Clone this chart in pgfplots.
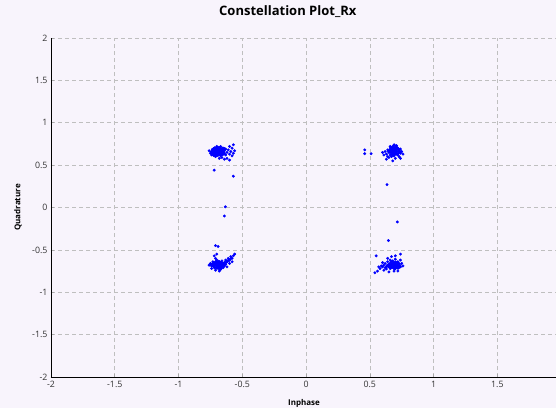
\documentclass[border=0pt]{standalone}
\usepackage{pgfplots}
\pgfplotsset{compat=1.18}
\usepackage{fontspec}
\setmainfont{Open Sans}
\definecolor{bgl}{RGB}{248,244,252}
\definecolor{ptblue}{RGB}{0,0,255}
\begin{document}
\begin{tikzpicture}
\path[use as bounding box, fill=bgl] (-51pt,-31pt) rectangle (505pt,377pt);
\begin{axis}[
  scale only axis, width=505pt, height=339pt,
  xmin=-2, xmax=1.96, ymin=-2, ymax=2,
  axis x line*=bottom, axis y line*=left,
  axis line style={black, line width=0.9pt, -},
  xtick={-2,-1.5,-1,-0.5,0,0.5,1,1.5},
  ytick={-2,-1.5,-1,-0.5,0,0.5,1,1.5,2},
  grid=major,
  grid style={gray!50, line width=0.6pt, dash pattern=on 4pt off 3pt},
  tick align=inside, major tick length=3pt,
  tick style={gray!70, line width=0.6pt},
  /pgf/number format/assume math mode=true,
  tick label style={font=\fontsize{8.8}{10}\selectfont, text=black!80},
  xticklabel style={yshift=-1pt},
  title={Constellation Plot\_Rx},
  title style={font=\bfseries\fontsize{13}{15}\selectfont, anchor=center, at={(axis description cs:0.469,1)}, yshift=20pt},
  xlabel={Inphase},
  xlabel style={font=\bfseries\fontsize{8}{9}\selectfont, anchor=center, at={(axis description cs:0.501,0)}, yshift=-26pt},
  ylabel={Quadrature},
  ylabel style={font=\bfseries\fontsize{8}{9}\selectfont, anchor=center, at={(axis description cs:-0.0653,0.5)}},
  clip=false,
]
\addplot[only marks, mark=*, mark size=1.25pt, color=ptblue] coordinates {
(-0.74,0.66) (-0.73,0.68) (-0.72,0.64) (-0.71,0.67) (-0.70,0.69) (-0.70,0.65) (-0.69,0.62) (-0.69,0.67)
(-0.68,0.70) (-0.68,0.64) (-0.67,0.66) (-0.67,0.61) (-0.66,0.68) (-0.66,0.63) (-0.65,0.66) (-0.65,0.70)
(-0.64,0.64) (-0.64,0.67) (-0.63,0.62) (-0.63,0.69) (-0.72,0.62) (-0.73,0.65) (-0.75,0.64) (-0.74,0.62)
(-0.71,0.60) (-0.70,0.72) (-0.69,0.71) (-0.72,0.70) (-0.67,0.72) (-0.66,0.59) (-0.62,0.65) (-0.61,0.68)
(-0.60,0.63) (-0.59,0.66) (-0.58,0.61) (-0.57,0.64) (-0.58,0.70) (-0.60,0.72) (-0.57,0.74) (-0.56,0.67)
(-0.62,0.58) (-0.64,0.57) (-0.60,0.56) (-0.68,0.58) (-0.76,0.67) (-0.71,0.655) (-0.69,0.645) (-0.675,0.655)
(-0.705,0.675) (-0.685,0.685) (-0.715,0.635) (-0.655,0.645) (-0.695,0.63) (-0.725,0.665) (-0.665,0.675)
(-0.645,0.655) (-0.735,0.645) (-0.69,0.66) (-0.70,0.64) (-0.68,0.67) (-0.72,0.44) (-0.57,0.37)
(-0.735,0.685) (-0.725,0.695) (-0.715,0.705) (-0.705,0.695) (-0.695,0.705) (-0.685,0.695) (-0.675,0.705)
(-0.665,0.69) (-0.655,0.70) (-0.645,0.685) (-0.735,0.625) (-0.725,0.615) (-0.715,0.62) (-0.705,0.61)
(-0.695,0.615) (-0.685,0.62) (-0.675,0.63) (-0.665,0.64) (-0.655,0.625) (-0.645,0.63) (-0.745,0.655)
(-0.73,0.675) (-0.71,0.685) (-0.70,0.66) (-0.68,0.65) (-0.66,0.655) (-0.64,0.695) (-0.72,0.655) (-0.69,0.69) (-0.67,0.625)
(0.62,0.66) (0.63,0.63) (0.64,0.68) (0.65,0.65) (0.66,0.70) (0.66,0.62) (0.67,0.67) (0.68,0.64)
(0.68,0.71) (0.69,0.66) (0.70,0.63) (0.70,0.69) (0.71,0.66) (0.72,0.62) (0.72,0.70) (0.73,0.67)
(0.74,0.64) (0.74,0.69) (0.75,0.66) (0.71,0.73) (0.69,0.74) (0.67,0.60) (0.65,0.59) (0.70,0.58)
(0.73,0.60) (0.61,0.62) (0.60,0.65) (0.63,0.57) (0.68,0.55) (0.74,0.58) (0.76,0.63) (0.66,0.72)
(0.64,0.60) (0.69,0.61) (0.71,0.64) (0.675,0.655) (0.695,0.675) (0.685,0.645) (0.705,0.655) (0.665,0.665)
(0.715,0.685) (0.655,0.675) (0.725,0.645) (0.685,0.685) (0.695,0.635) (0.705,0.705) (0.675,0.695)
(0.665,0.685) (0.675,0.715) (0.685,0.725) (0.695,0.705) (0.705,0.725) (0.715,0.705) (0.725,0.685)
(0.665,0.645) (0.675,0.625) (0.685,0.615) (0.695,0.655) (0.705,0.635) (0.715,0.625) (0.725,0.665)
(0.735,0.655) (0.735,0.685) (0.655,0.655) (0.645,0.665) (0.70,0.675) (0.68,0.68) (0.69,0.645)
(0.46,0.68) (0.46,0.635) (0.51,0.635) (0.635,0.27)
(-0.75,-0.66) (-0.74,-0.69) (-0.73,-0.64) (-0.72,-0.67) (-0.72,-0.71) (-0.71,-0.65) (-0.70,-0.69) (-0.70,-0.62)
(-0.69,-0.67) (-0.69,-0.72) (-0.68,-0.64) (-0.68,-0.70) (-0.67,-0.66) (-0.67,-0.73) (-0.66,-0.69) (-0.66,-0.63)
(-0.65,-0.67) (-0.65,-0.71) (-0.64,-0.65) (-0.64,-0.69) (-0.63,-0.62) (-0.63,-0.67) (-0.62,-0.64) (-0.61,-0.60)
(-0.60,-0.62) (-0.59,-0.58) (-0.58,-0.60) (-0.57,-0.57) (-0.56,-0.55) (-0.60,-0.66) (-0.58,-0.64) (-0.62,-0.70)
(-0.71,-0.60) (-0.72,-0.57) (-0.70,-0.55) (-0.74,-0.72) (-0.71,-0.74) (-0.68,-0.75) (-0.76,-0.68)
(-0.71,-0.45) (-0.69,-0.46) (-0.695,-0.675) (-0.705,-0.685) (-0.685,-0.665) (-0.675,-0.685) (-0.715,-0.675)
(-0.705,-0.655) (-0.685,-0.695) (-0.725,-0.685) (-0.665,-0.675) (-0.655,-0.685) (-0.735,-0.665) (-0.645,-0.675)
(-0.69,-0.70) (-0.70,-0.675) (-0.633,0.008) (-0.64,-0.10)
(-0.725,-0.695) (-0.715,-0.705) (-0.705,-0.715) (-0.695,-0.705) (-0.685,-0.715) (-0.675,-0.705) (-0.665,-0.715)
(-0.715,-0.645) (-0.705,-0.635) (-0.695,-0.645) (-0.685,-0.635) (-0.675,-0.645) (-0.665,-0.655) (-0.655,-0.66)
(-0.735,-0.685) (-0.745,-0.675) (-0.725,-0.655) (-0.69,-0.69) (-0.68,-0.68) (-0.67,-0.69) (-0.71,-0.665)
(-0.645,-0.66) (-0.635,-0.655) (-0.625,-0.645) (-0.615,-0.63) (-0.605,-0.625) (-0.595,-0.61)
(0.62,-0.66) (0.63,-0.70) (0.64,-0.64) (0.65,-0.68) (0.66,-0.72) (0.66,-0.62) (0.67,-0.67) (0.68,-0.70)
(0.68,-0.63) (0.69,-0.66) (0.70,-0.72) (0.70,-0.61) (0.71,-0.68) (0.72,-0.64) (0.72,-0.71) (0.73,-0.67)
(0.74,-0.62) (0.74,-0.70) (0.75,-0.66) (0.67,-0.58) (0.70,-0.57) (0.74,-0.55) (0.64,-0.60) (0.60,-0.65)
(0.59,-0.69) (0.58,-0.72) (0.56,-0.75) (0.54,-0.77) (0.57,-0.70) (0.61,-0.74) (0.65,-0.76) (0.69,-0.75)
(0.72,-0.75) (0.76,-0.69) (0.55,-0.57) (0.675,-0.675) (0.685,-0.685) (0.695,-0.665) (0.665,-0.695)
(0.705,-0.675) (0.685,-0.655) (0.715,-0.695) (0.655,-0.665) (0.695,-0.695) (0.725,-0.655) (0.675,-0.705)
(0.705,-0.645) (0.716,-0.17) (0.646,-0.39)
(0.665,-0.645) (0.675,-0.635) (0.695,-0.645) (0.715,-0.655) (0.725,-0.675) (0.735,-0.685) (0.715,-0.715)
(0.705,-0.705) (0.685,-0.715) (0.665,-0.715) (0.655,-0.705) (0.645,-0.695) (0.645,-0.675) (0.635,-0.685)
(0.69,-0.68) (0.70,-0.69) (0.68,-0.665) (0.66,-0.68) (0.73,-0.70) (0.725,-0.715) (0.695,-0.725)
(0.62,-0.71) (0.60,-0.70) (0.61,-0.68) (0.63,-0.725)
};
\end{axis}
\end{tikzpicture}
\end{document}
